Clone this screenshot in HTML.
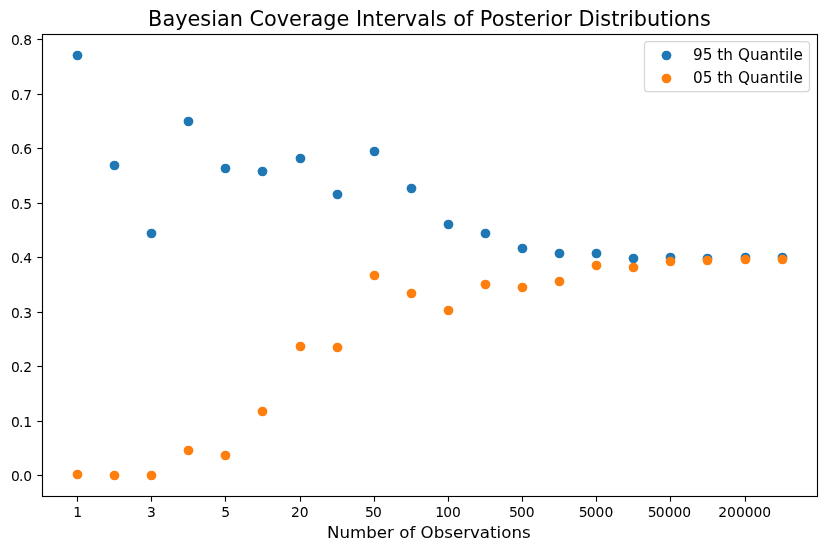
<!DOCTYPE html>
<html lang="en">
<head>
<meta charset="utf-8">
<title>Bayesian Coverage Intervals of Posterior Distributions</title>
<style>
html,body{margin:0;padding:0;background:#fff;}
body{width:826px;height:550px;overflow:hidden;}
svg{display:block;}
svg text{font-family:"DejaVu Sans","Liberation Sans",sans-serif;fill:#000;}
.tk{font-size:13.889px;}
.ttl{font-size:20.833px;}
.xl{font-size:16.667px;}
.lg{font-size:15.278px;letter-spacing:0.05px;}
</style>
</head>
<body>
<svg width="826" height="550" viewBox="0 0 826 550">
<rect x="0" y="0" width="826" height="550" fill="#ffffff"/>
<g id="points-q95" fill="#1f77b4">
<circle cx="77.50" cy="55.50" r="4.87"/>
<circle cx="114.50" cy="165.50" r="4.87"/>
<circle cx="151.50" cy="233.50" r="4.87"/>
<circle cx="188.50" cy="121.50" r="4.87"/>
<circle cx="225.50" cy="168.50" r="4.87"/>
<circle cx="262.50" cy="171.50" r="4.87"/>
<circle cx="300.50" cy="158.50" r="4.87"/>
<circle cx="337.50" cy="194.50" r="4.87"/>
<circle cx="374.50" cy="151.50" r="4.87"/>
<circle cx="411.50" cy="188.50" r="4.87"/>
<circle cx="448.50" cy="224.50" r="4.87"/>
<circle cx="485.50" cy="233.50" r="4.87"/>
<circle cx="522.50" cy="248.50" r="4.87"/>
<circle cx="559.50" cy="253.50" r="4.87"/>
<circle cx="596.50" cy="253.50" r="4.87"/>
<circle cx="633.50" cy="258.50" r="4.87"/>
<circle cx="670.50" cy="257.50" r="4.87"/>
<circle cx="707.50" cy="258.50" r="4.87"/>
<circle cx="745.50" cy="257.50" r="4.87"/>
<circle cx="782.50" cy="257.50" r="4.87"/>
</g>
<g id="points-q05" fill="#ff7f0e">
<circle cx="77.50" cy="474.50" r="4.87"/>
<circle cx="114.50" cy="475.50" r="4.87"/>
<circle cx="151.50" cy="475.50" r="4.87"/>
<circle cx="188.50" cy="450.50" r="4.87"/>
<circle cx="225.50" cy="455.50" r="4.87"/>
<circle cx="262.50" cy="411.50" r="4.87"/>
<circle cx="300.50" cy="346.50" r="4.87"/>
<circle cx="337.50" cy="347.50" r="4.87"/>
<circle cx="374.50" cy="275.50" r="4.87"/>
<circle cx="411.50" cy="293.50" r="4.87"/>
<circle cx="448.50" cy="310.50" r="4.87"/>
<circle cx="485.50" cy="284.50" r="4.87"/>
<circle cx="522.50" cy="287.50" r="4.87"/>
<circle cx="559.50" cy="281.50" r="4.87"/>
<circle cx="596.50" cy="265.50" r="4.87"/>
<circle cx="633.50" cy="267.50" r="4.87"/>
<circle cx="670.50" cy="261.50" r="4.87"/>
<circle cx="707.50" cy="260.50" r="4.87"/>
<circle cx="745.50" cy="259.50" r="4.87"/>
<circle cx="782.50" cy="259.50" r="4.87"/>
</g>
<g id="xticks" stroke="#000" stroke-width="1.11">
<line x1="77.5" y1="496.5" x2="77.5" y2="501.66"/>
<line x1="151.5" y1="496.5" x2="151.5" y2="501.66"/>
<line x1="225.5" y1="496.5" x2="225.5" y2="501.66"/>
<line x1="300.5" y1="496.5" x2="300.5" y2="501.66"/>
<line x1="374.5" y1="496.5" x2="374.5" y2="501.66"/>
<line x1="448.5" y1="496.5" x2="448.5" y2="501.66"/>
<line x1="522.5" y1="496.5" x2="522.5" y2="501.66"/>
<line x1="596.5" y1="496.5" x2="596.5" y2="501.66"/>
<line x1="670.5" y1="496.5" x2="670.5" y2="501.66"/>
<line x1="745.5" y1="496.5" x2="745.5" y2="501.66"/>
</g>
<g id="xticklabels" class="tk" text-anchor="middle">
<text class="tk" x="77.65" y="516.8">1</text>
<text class="tk" x="151.41" y="516.8">3</text>
<text class="tk" x="225.58" y="516.8">5</text>
<text class="tk" x="299.74" y="516.8">20</text>
<text class="tk" x="373.51" y="516.8" dx="0 -0.8">50</text>
<text class="tk" x="448.07" y="516.8" dx="0 -0.9">100</text>
<text class="tk" x="521.83" y="516.8" dx="0 -0.8">500</text>
<text class="tk" x="596.00" y="516.8" dx="0 -0.8">5000</text>
<text class="tk" x="669.51" y="516.8" dx="0 -0.8">50000</text>
<text class="tk" x="744.73" y="516.8">200000</text>
</g>
<g id="yticks" stroke="#000" stroke-width="1.11">
<line x1="37.34" y1="475.5" x2="42.5" y2="475.5"/>
<line x1="37.34" y1="421.5" x2="42.5" y2="421.5"/>
<line x1="37.34" y1="366.5" x2="42.5" y2="366.5"/>
<line x1="37.34" y1="312.5" x2="42.5" y2="312.5"/>
<line x1="37.34" y1="257.5" x2="42.5" y2="257.5"/>
<line x1="37.34" y1="203.5" x2="42.5" y2="203.5"/>
<line x1="37.34" y1="148.5" x2="42.5" y2="148.5"/>
<line x1="37.34" y1="94.5" x2="42.5" y2="94.5"/>
<line x1="37.34" y1="39.5" x2="42.5" y2="39.5"/>
</g>
<g id="yticklabels" text-anchor="end">
<text class="tk" x="32.2" y="480.78" dx="0 -1 0.05">0.0</text>
<text class="tk" x="32.2" y="426.78" dx="0 -1 0.05">0.1</text>
<text class="tk" x="32.2" y="371.78" dx="0 -1 0.05">0.2</text>
<text class="tk" x="32.2" y="317.78" dx="0 -1 0.05">0.3</text>
<text class="tk" x="32.2" y="262.78" dx="0 -1 0.05">0.4</text>
<text class="tk" x="32.2" y="208.78" dx="0 -1 0.05">0.5</text>
<text class="tk" x="32.2" y="153.78" dx="0 -1 0.05">0.6</text>
<text class="tk" x="32.2" y="99.78" dx="0 -1 0.05">0.7</text>
<text class="tk" x="32.2" y="44.78" dx="0 -1 0.05">0.8</text>
</g>
<rect id="axes" x="42.5" y="34.5" width="775.0" height="462.0" fill="none" stroke="#000" stroke-width="1.11" stroke-linejoin="miter"/>
<text class="ttl" text-anchor="middle" x="429.5" y="26.1">Bayesian Coverage Intervals of Posterior Distributions</text>
<text class="xl" text-anchor="middle" x="428.85" y="537.6">Number of Observations</text>
<g id="legend">
<rect x="644.5" y="41.5" width="165" height="50" rx="3.06" ry="3.06" fill="#ffffff" fill-opacity="0.8" stroke="#cccccc" stroke-opacity="0.8" stroke-width="1.25"/>
<circle cx="666.5" cy="55.5" r="4.87" fill="#1f77b4"/>
<text class="lg" x="692.9" y="59.8">95 th Quantile</text>
<circle cx="666.5" cy="78.5" r="4.87" fill="#ff7f0e"/>
<text class="lg" x="692.9" y="83.3">05 th Quantile</text>
</g>
</svg>
</body>
</html>
